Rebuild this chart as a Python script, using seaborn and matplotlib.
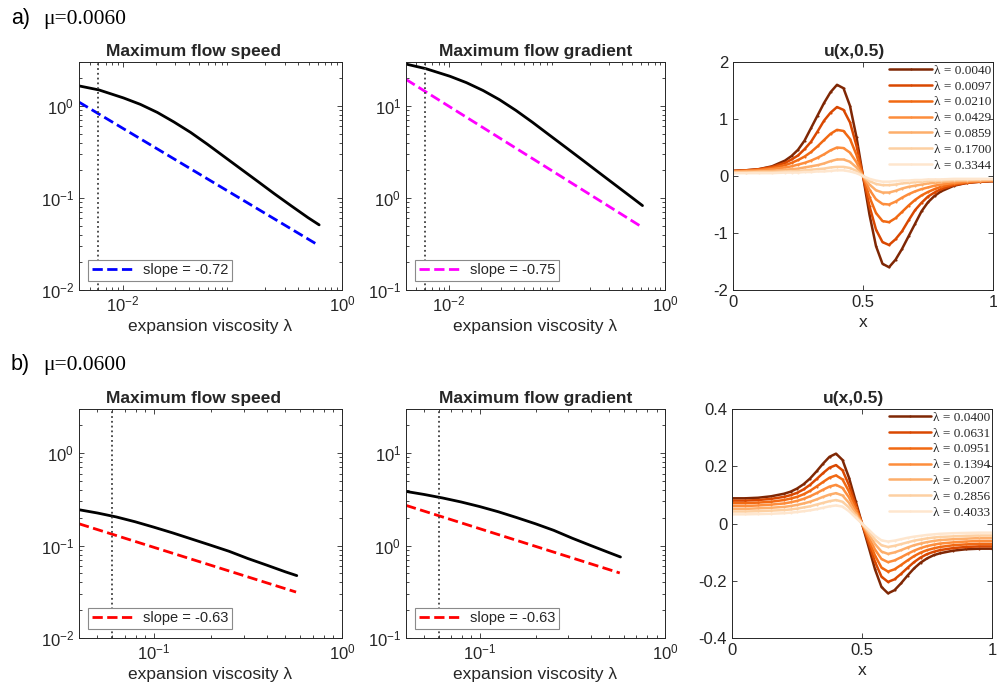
import numpy as np
import matplotlib
matplotlib.use('Agg')
import matplotlib.pyplot as plt
import seaborn as sns
from matplotlib.ticker import LogLocator, NullFormatter, FixedLocator

# ---------------- data ----------------
# row a) mu = 0.0060
mu_top = 0.006
lam_top = [0.0040, 0.0061, 0.0102, 0.0145, 0.0207, 0.0293, 0.0417, 0.0593, 0.0843,
           0.120, 0.171, 0.242, 0.345, 0.491, 0.619]
speed_top = [1.65, 1.49, 1.22, 1.04, 0.85, 0.67, 0.515, 0.383, 0.281,
             0.206, 0.151, 0.111, 0.082, 0.061, 0.051]
grad_top = [28.5, 25.4, 21.0, 17.9, 14.7, 11.7, 8.93, 6.64, 4.86,
            3.56, 2.60, 1.905, 1.39, 1.016, 0.826]
lam_fit_top = [0.004, 0.60]
speed_fit_top = [1.10, 0.031]
grad_fit_top = [19.4, 0.49]
speed_slope_top = 'slope = -0.72'
grad_slope_top = 'slope = -0.75'

# row b) mu = 0.0600
mu_bot = 0.06
lam_bot = [0.040, 0.0501, 0.0631, 0.0794, 0.100, 0.126, 0.158, 0.200, 0.251,
           0.316, 0.398, 0.501, 0.575]
speed_bot = [0.244, 0.225, 0.204, 0.181, 0.158, 0.137, 0.118, 0.101, 0.0867,
             0.0724, 0.0614, 0.0519, 0.0473]
grad_bot = [3.85, 3.57, 3.27, 2.96, 2.64, 2.32, 2.01, 1.72, 1.46,
            1.20, 1.00, 0.836, 0.752]
lam_fit_bot = [0.04, 0.57]
speed_fit_bot = [0.172, 0.0314]
grad_fit_bot = [2.72, 0.505]
speed_slope_bot = 'slope = -0.63'
grad_slope_bot = 'slope = -0.63'

# u(x,0.5) profiles
ux = [0, 0.05, 0.1, 0.15, 0.2, 0.225, 0.25, 0.275, 0.3, 0.325, 0.35, 0.375, 0.4, 0.425, 0.45, 0.475, 0.5,
      0.525, 0.55, 0.575, 0.6, 0.625, 0.65, 0.675, 0.7, 0.725, 0.75, 0.775, 0.8, 0.85, 0.9, 0.95, 1.0]

lam_labels_top = ['0.0040', '0.0097', '0.0210', '0.0429', '0.0859', '0.1700', '0.3344']
u_top_1 = [0.09, 0.10, 0.12, 0.17, 0.27, 0.35, 0.46, 0.62, 0.84, 1.06, 1.28, 1.47, 1.60, 1.54, 1.23, 0.68, 0.00,
           -0.68, -1.23, -1.54, -1.60, -1.47, -1.28, -1.06, -0.84, -0.62, -0.46, -0.35, -0.27, -0.17, -0.12, -0.10, -0.09]
u_top_2 = [0.09, 0.10, 0.12, 0.16, 0.23, 0.29, 0.36, 0.47, 0.60, 0.78, 0.97, 1.11, 1.21, 1.16, 0.94, 0.53, 0.00,
           -0.53, -0.94, -1.16, -1.21, -1.11, -0.97, -0.78, -0.60, -0.47, -0.36, -0.29, -0.23, -0.16, -0.12, -0.10, -0.09]
u_top_3 = [0.08, 0.09, 0.11, 0.14, 0.19, 0.23, 0.28, 0.34, 0.42, 0.52, 0.63, 0.74, 0.81, 0.79, 0.65, 0.37, 0.00,
           -0.37, -0.65, -0.79, -0.81, -0.74, -0.63, -0.52, -0.42, -0.34, -0.28, -0.23, -0.19, -0.14, -0.11, -0.09, -0.08]
u_top_4 = [0.08, 0.09, 0.10, 0.12, 0.15, 0.17, 0.20, 0.23, 0.27, 0.32, 0.38, 0.45, 0.50, 0.49, 0.41, 0.24, 0.00,
           -0.24, -0.41, -0.49, -0.50, -0.45, -0.38, -0.32, -0.27, -0.23, -0.20, -0.17, -0.15, -0.12, -0.10, -0.09, -0.08]
u_top_5 = [0.07, 0.08, 0.08, 0.09, 0.11, 0.12, 0.13, 0.15, 0.17, 0.19, 0.22, 0.26, 0.29, 0.29, 0.25, 0.15, 0.00,
           -0.15, -0.25, -0.29, -0.29, -0.26, -0.22, -0.19, -0.17, -0.15, -0.13, -0.12, -0.11, -0.09, -0.08, -0.08, -0.07]
u_top_6 = [0.06, 0.06, 0.07, 0.07, 0.08, 0.08, 0.09, 0.10, 0.11, 0.12, 0.13, 0.15, 0.16, 0.16, 0.14, 0.09, 0.00,
           -0.09, -0.14, -0.16, -0.16, -0.15, -0.13, -0.12, -0.11, -0.10, -0.09, -0.08, -0.08, -0.07, -0.07, -0.06, -0.06]
u_top_7 = [0.05, 0.05, 0.05, 0.05, 0.06, 0.06, 0.06, 0.07, 0.07, 0.08, 0.08, 0.09, 0.10, 0.10, 0.08, 0.05, 0.00,
           -0.05, -0.08, -0.10, -0.10, -0.09, -0.08, -0.08, -0.07, -0.07, -0.06, -0.06, -0.06, -0.05, -0.05, -0.05, -0.05]

lam_labels_bot = ['0.0400', '0.0631', '0.0951', '0.1394', '0.2007', '0.2856', '0.4033']
u_bot_1 = [0.088, 0.088, 0.090, 0.095, 0.104, 0.111, 0.122, 0.137, 0.157, 0.182, 0.209, 0.233, 0.244, 0.222, 0.160, 0.080, 0.0,
           -0.080, -0.160, -0.222, -0.244, -0.233, -0.209, -0.182, -0.157, -0.137, -0.122, -0.111, -0.104, -0.095, -0.090, -0.088, -0.088]
u_bot_2 = [0.080, 0.080, 0.082, 0.086, 0.093, 0.099, 0.107, 0.119, 0.135, 0.155, 0.176, 0.195, 0.204, 0.186, 0.134, 0.067, 0.0,
           -0.067, -0.134, -0.186, -0.204, -0.195, -0.176, -0.155, -0.135, -0.119, -0.107, -0.099, -0.093, -0.086, -0.082, -0.080, -0.080]
u_bot_3 = [0.071, 0.071, 0.073, 0.076, 0.082, 0.087, 0.093, 0.102, 0.114, 0.129, 0.145, 0.160, 0.168, 0.154, 0.112, 0.056, 0.0,
           -0.056, -0.112, -0.154, -0.168, -0.160, -0.145, -0.129, -0.114, -0.102, -0.093, -0.087, -0.082, -0.076, -0.073, -0.071, -0.071]
u_bot_4 = [0.061, 0.061, 0.063, 0.066, 0.070, 0.074, 0.079, 0.086, 0.095, 0.106, 0.118, 0.129, 0.135, 0.124, 0.091, 0.046, 0.0,
           -0.046, -0.091, -0.124, -0.135, -0.129, -0.118, -0.106, -0.095, -0.086, -0.079, -0.074, -0.070, -0.066, -0.063, -0.061, -0.061]
u_bot_5 = [0.051, 0.051, 0.053, 0.055, 0.058, 0.061, 0.065, 0.070, 0.076, 0.084, 0.093, 0.101, 0.106, 0.098, 0.072, 0.036, 0.0,
           -0.036, -0.072, -0.098, -0.106, -0.101, -0.093, -0.084, -0.076, -0.070, -0.065, -0.061, -0.058, -0.055, -0.053, -0.051, -0.051]
u_bot_6 = [0.042, 0.042, 0.043, 0.045, 0.047, 0.049, 0.052, 0.056, 0.060, 0.066, 0.072, 0.078, 0.082, 0.076, 0.056, 0.028, 0.0,
           -0.028, -0.056, -0.076, -0.082, -0.078, -0.072, -0.066, -0.060, -0.056, -0.052, -0.049, -0.047, -0.045, -0.043, -0.042, -0.042]
u_bot_7 = [0.032, 0.032, 0.033, 0.034, 0.036, 0.038, 0.040, 0.043, 0.046, 0.050, 0.055, 0.060, 0.063, 0.059, 0.043, 0.021, 0.0,
           -0.021, -0.043, -0.059, -0.063, -0.060, -0.055, -0.050, -0.046, -0.043, -0.040, -0.038, -0.036, -0.034, -0.033, -0.032, -0.032]

u_top = [u_top_1, u_top_2, u_top_3, u_top_4, u_top_5, u_top_6, u_top_7]
u_bot = [u_bot_1, u_bot_2, u_bot_3, u_bot_4, u_bot_5, u_bot_6, u_bot_7]

oranges = ['#7f2704', '#d94801', '#f16913', '#fd8d3c', '#fdae6b', '#fdd0a2', '#fee6ce']

# ---------------- style ----------------
sns.set_theme(style='ticks')
plt.rcParams['font.family'] = ['Liberation Sans', 'DejaVu Sans']
plt.rcParams['axes.unicode_minus'] = False
plt.rcParams['mathtext.default'] = 'regular'
DARK = '#262626'
FS = 12
TFS = 12.5

fig = plt.figure(figsize=(9.97, 6.93), dpi=100)
W, H = 997, 693


def make_ax(left, top, width, height):
    return fig.add_axes([left / W, 1 - (top + height) / H, width / W, height / H])


def style_ax(ax):
    for s in ax.spines.values():
        s.set_linewidth(0.7)
        s.set_color(DARK)
    ax.tick_params(which='both', direction='in', top=True, right=True,
                   colors=DARK, labelsize=FS, width=0.6)
    ax.tick_params(which='major', length=3.5)
    ax.tick_params(which='minor', length=2)


def log_panel(ax, lam, vals, lam_fit, fit, fit_color, fit_label, mu, xlim, ylim, xticks,
              title, title_x=0.5):
    sns.lineplot(x=lam, y=vals, color='black', lw=2, ax=ax)
    sns.lineplot(x=lam_fit, y=fit, color=fit_color, lw=2, linestyle='--', ax=ax, label=fit_label)
    ax.axvline(mu, color='#404040', ls=':', lw=1.3)
    ax.set_xscale('log')
    ax.set_yscale('log')
    ax.set_xlim(xlim)
    ax.set_ylim(ylim)
    ax.xaxis.set_major_locator(FixedLocator(xticks))
    ax.xaxis.set_minor_locator(LogLocator(base=10, subs=np.arange(2, 10)))
    ax.yaxis.set_minor_locator(LogLocator(base=10, subs=np.arange(2, 10)))
    ax.xaxis.set_minor_formatter(NullFormatter())
    ax.yaxis.set_minor_formatter(NullFormatter())
    style_ax(ax)
    ax.set_title(title, fontsize=TFS, fontweight='bold', pad=4, x=title_x)
    ax.set_xlabel('expansion viscosity λ', fontsize=TFS, color=DARK, labelpad=3)
    ax.set_ylabel('')
    leg = ax.legend(loc='lower left', bbox_to_anchor=(0.035, 0.04), fontsize=10.5,
                    frameon=True, fancybox=False, edgecolor='#8a8a8a', framealpha=1,
                    handlelength=3.0, borderpad=0.25, borderaxespad=0, handletextpad=0.5)
    leg.get_frame().set_linewidth(0.8)


def profile_panel(ax, curves, labels, yticks, yticklabels):
    for u, lab, col in zip(curves, labels, oranges):
        sns.lineplot(x=ux, y=u, color=col, lw=1.8, marker='.', markersize=3,
                     markeredgewidth=0, ax=ax, label='λ = ' + lab)
    ax.set_xlim(0, 1)
    ax.set_ylim(yticks[0], yticks[-1])
    ax.set_xticks([0, 0.5, 1])
    ax.set_xticklabels(['0', '0.5', '1'])
    ax.set_yticks(yticks)
    ax.set_yticklabels(yticklabels)
    style_ax(ax)
    ax.set_title('u(x,0.5)', fontsize=TFS, fontweight='bold', pad=4, x=0.468)
    ax.set_xlabel('x', fontsize=TFS, color=DARK, labelpad=4)
    ax.set_ylabel('')
    ax.legend(loc='upper right', bbox_to_anchor=(1.005, 1.0), frameon=False,
              prop={'family': ['Liberation Serif', 'DejaVu Serif'], 'size': 9.5},
              handlelength=3.2, handletextpad=0.2, labelspacing=0.27,
              borderpad=0.15, borderaxespad=0.05)


# ---------------- row a ----------------
ax1 = make_ax(79, 62, 263, 228)
log_panel(ax1, lam_top, speed_top, lam_fit_top, speed_fit_top, '#0000ff', speed_slope_top,
          mu_top, (0.004, 1), (0.01, 3), [1e-2, 1], 'Maximum flow speed', title_x=0.437)
ax2 = make_ax(406, 62, 259, 228)
log_panel(ax2, lam_top, grad_top, lam_fit_top, grad_fit_top, '#ff00ff', grad_slope_top,
          mu_top, (0.004, 1), (0.1, 30), [1e-2, 1], 'Maximum flow gradient')
ax3 = make_ax(733, 62, 260, 228)
profile_panel(ax3, u_top, lam_labels_top, [-2, -1, 0, 1, 2], ['-2', '-1', '0', '1', '2'])

# ---------------- row b ----------------
ax4 = make_ax(79, 409, 263, 229)
log_panel(ax4, lam_bot, speed_bot, lam_fit_bot, speed_fit_bot, '#ff0000', speed_slope_bot,
          mu_bot, (0.04, 1), (0.01, 3), [1e-1, 1], 'Maximum flow speed', title_x=0.437)
ax5 = make_ax(406, 409, 259, 229)
log_panel(ax5, lam_bot, grad_bot, lam_fit_bot, grad_fit_bot, '#ff0000', grad_slope_bot,
          mu_bot, (0.04, 1), (0.1, 30), [1e-1, 1], 'Maximum flow gradient')
ax6 = make_ax(732, 409, 260, 229)
profile_panel(ax6, u_bot, lam_labels_bot, [-0.4, -0.2, 0, 0.2, 0.4],
              ['-0.4', '-0.2', '0', '0.2', '0.4'])

# row labels
fig.text(11 / W, 1 - 24 / H, 'a)', fontsize=15.5, color='black', va='baseline')
fig.text(43 / W, 1 - 24 / H, 'μ=0.0060', fontsize=15.5, color='black', va='baseline',
         family=['Liberation Serif', 'DejaVu Serif'])
fig.text(11 / W, 1 - 370 / H, 'b)', fontsize=15.5, color='black', va='baseline')
fig.text(43 / W, 1 - 370 / H, 'μ=0.0600', fontsize=15.5, color='black', va='baseline',
         family=['Liberation Serif', 'DejaVu Serif'])

fig.savefig('out.png', dpi=100)
